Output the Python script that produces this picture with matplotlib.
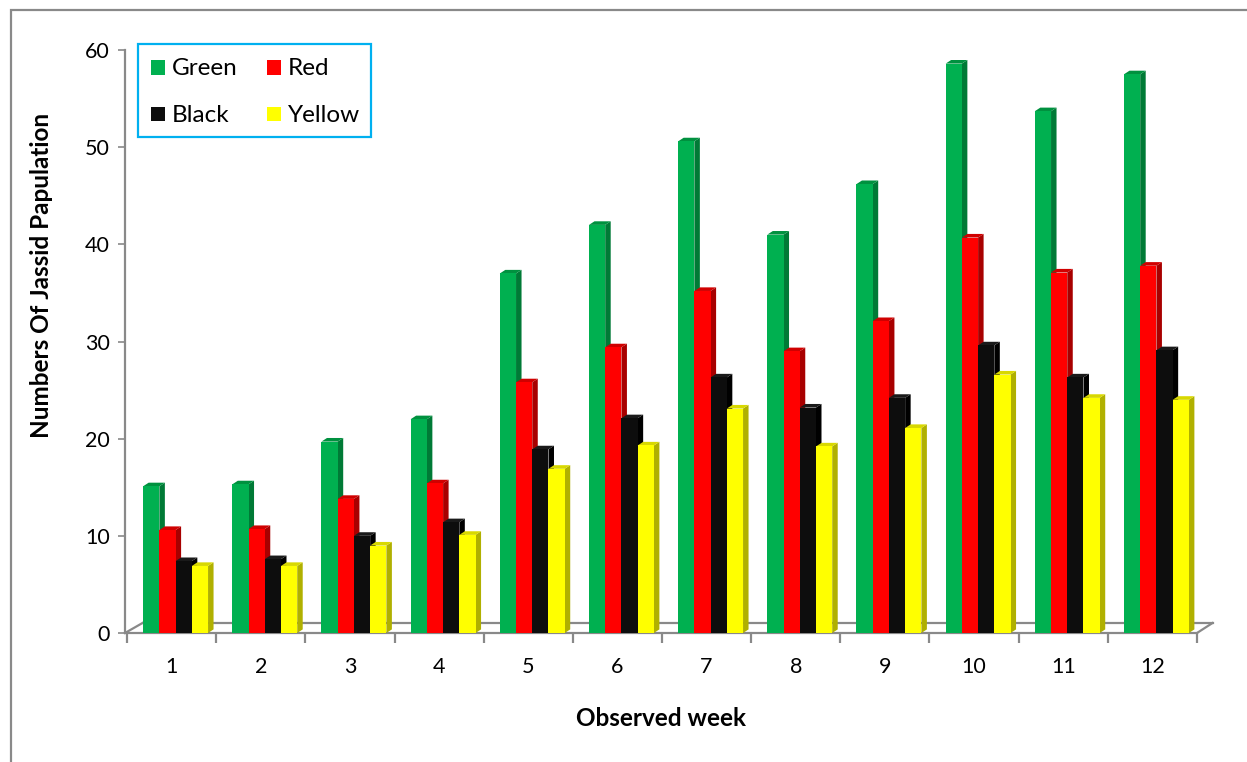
import matplotlib
matplotlib.use("Agg")
import matplotlib.pyplot as plt
from matplotlib.patches import Polygon, Rectangle
from matplotlib.lines import Line2D
import numpy as np

# ---- data -------------------------------------------------------------
weeks = ["1", "2", "3", "4", "5", "6", "7", "8", "9", "10", "11", "12"]
series_names = ["Green", "Red", "Black", "Yellow"]
green = [15.1, 15.3, 19.7, 22.0, 37.0, 42.0, 50.6, 41.0, 46.2, 58.6, 53.7, 57.5]
red = [10.6, 10.7, 13.8, 15.4, 25.8, 29.4, 35.2, 29.0, 32.1, 40.7, 37.1, 37.8]
black = [7.4, 7.6, 10.0, 11.4, 18.9, 22.1, 26.3, 23.2, 24.2, 29.6, 26.3, 29.1]
yellow = [6.9, 6.9, 9.0, 10.1, 16.9, 19.3, 23.1, 19.2, 21.1, 26.6, 24.2, 24.0]
y_ticks = [0, 10, 20, 30, 40, 50, 60]

# face colours: front, side, top
front_colors = ["#00B050", "#FF0000", "#0D0D0D", "#FFFF00"]
side_colors = ["#007A36", "#A80000", "#000000", "#B0B000"]
top_colors = ["#00913F", "#D00000", "#1A1A1A", "#D8D800"]

FONT = "Lato"
GRAY = "#898989"
W, H = 1247, 762


def fig_xy(px, py):
    """Pixel position (from top-left) to figure fraction."""
    return px / W, 1 - py / H


fig = plt.figure(figsize=(W / 100, H / 100), dpi=100)
fig.patch.set_facecolor("white")

# outer chart frame
fig.patches.append(Rectangle(fig_xy(11, 772), (W + 20) / W, (772 - 10) / H,
                             transform=fig.transFigure, fill=False,
                             edgecolor=GRAY, linewidth=1.6))

left, right, top, bottom = 127, 1197, 50, 633
ax = fig.add_axes([left / W, 1 - bottom / H, (right - left) / W, (bottom - top) / H])
ax.set_xlim(0.5, len(weeks) + 0.5)
ax.set_ylim(0, 60)
ax.patch.set_alpha(0)

for s in ["top", "right"]:
    ax.spines[s].set_visible(False)
ax.spines["left"].set_position(("outward", 1.5))
for s in ["left", "bottom"]:
    ax.spines[s].set_color(GRAY)
    ax.spines[s].set_linewidth(1.6)

ax.set_yticks(y_ticks)
ax.set_yticklabels([str(v) for v in y_ticks], fontsize=15.5, family=FONT)
ax.tick_params(axis="y", length=5, width=1.2, color=GRAY, pad=6)

x = np.arange(1, len(weeks) + 1)
ax.set_xticks(np.arange(0.5, len(weeks) + 1, 1.0))
ax.set_xticklabels([])
ax.tick_params(axis="x", which="major", length=7.5, width=1.6, color=GRAY, direction="out")
ax.set_xticks(x, minor=True)
ax.set_xticklabels(weeks, minor=True, fontsize=15.5, family=FONT)
ax.tick_params(axis="x", which="minor", length=0, pad=17)

# 3-D depth in data units, taken from the axes scale
fig.canvas.draw()
p0 = ax.transData.transform((0, 0))
p1 = ax.transData.transform((1, 1))
ux, uy = p1[0] - p0[0], p1[1] - p0[1]
depth_x, depth_y = 5.5 / ux, 3.6 / uy
floor_x, floor_y = 15.5 / ux, 10.0 / uy

# floor
x0, x1 = ax.get_xlim()
floor_kw = dict(color=GRAY, linewidth=1.6, clip_on=False, zorder=1)
ax.add_line(Line2D([x0 + floor_x, x1 + floor_x], [floor_y, floor_y], **floor_kw))
ax.add_line(Line2D([x0 - 2 / ux, x0 + floor_x], [0, floor_y], **floor_kw))
ax.add_line(Line2D([x1, x1 + floor_x], [0, floor_y], **floor_kw))

# bars
bw = 0.182
shift = 0.045
data = [green, red, black, yellow]
z = 3
for i, vals in enumerate(data):
    lefts = x + shift + (i - 2) * bw
    for xl, v in zip(lefts, vals):
        xr = xl + bw
        side = Polygon([(xr, 0), (xr, v), (xr + depth_x, v + depth_y), (xr + depth_x, depth_y)],
                       closed=True, facecolor=side_colors[i], edgecolor="none", zorder=z)
        topf = Polygon([(xl, v), (xr, v), (xr + depth_x, v + depth_y), (xl + depth_x, v + depth_y)],
                       closed=True, facecolor=top_colors[i], edgecolor="none", zorder=z)
        ax.add_patch(side)
        ax.add_patch(topf)
    ax.bar(lefts, vals, width=bw, align="edge", color=front_colors[i],
           edgecolor="none", zorder=z + 1, label=series_names[i])
    z += 2

# axis titles
fig.text(*fig_xy(661, 718), "Observed week", ha="center", va="center",
         fontsize=17.5, fontweight="bold", family=FONT)
fig.text(*fig_xy(42, 275), "Numbers Of Jassid Papulation", ha="center", va="center",
         rotation=90, fontsize=17.5, fontweight="bold", family=FONT)

# legend box
lx0, ly0, lx1, ly1 = 138, 44, 371, 137
fig.patches.append(Rectangle(fig_xy(lx0, ly1), (lx1 - lx0) / W, (ly1 - ly0) / H,
                             transform=fig.transFigure, facecolor="white",
                             edgecolor="#00B0F0", linewidth=1.6, zorder=5))
cols = [151, 267]
rows = [67.5, 114]
for i, name in enumerate(series_names):
    cx = cols[i % 2]
    cy = rows[i // 2]
    fig.patches.append(Rectangle(fig_xy(cx, cy + 7), 14 / W, 14 / H,
                                 transform=fig.transFigure, facecolor=front_colors[i],
                                 edgecolor="none", zorder=6))
    fig.text(*fig_xy(cx + 21, cy + 1), name, ha="left", va="center",
             fontsize=17.5, family=FONT, zorder=7)

fig.savefig("out.png", dpi=100)
